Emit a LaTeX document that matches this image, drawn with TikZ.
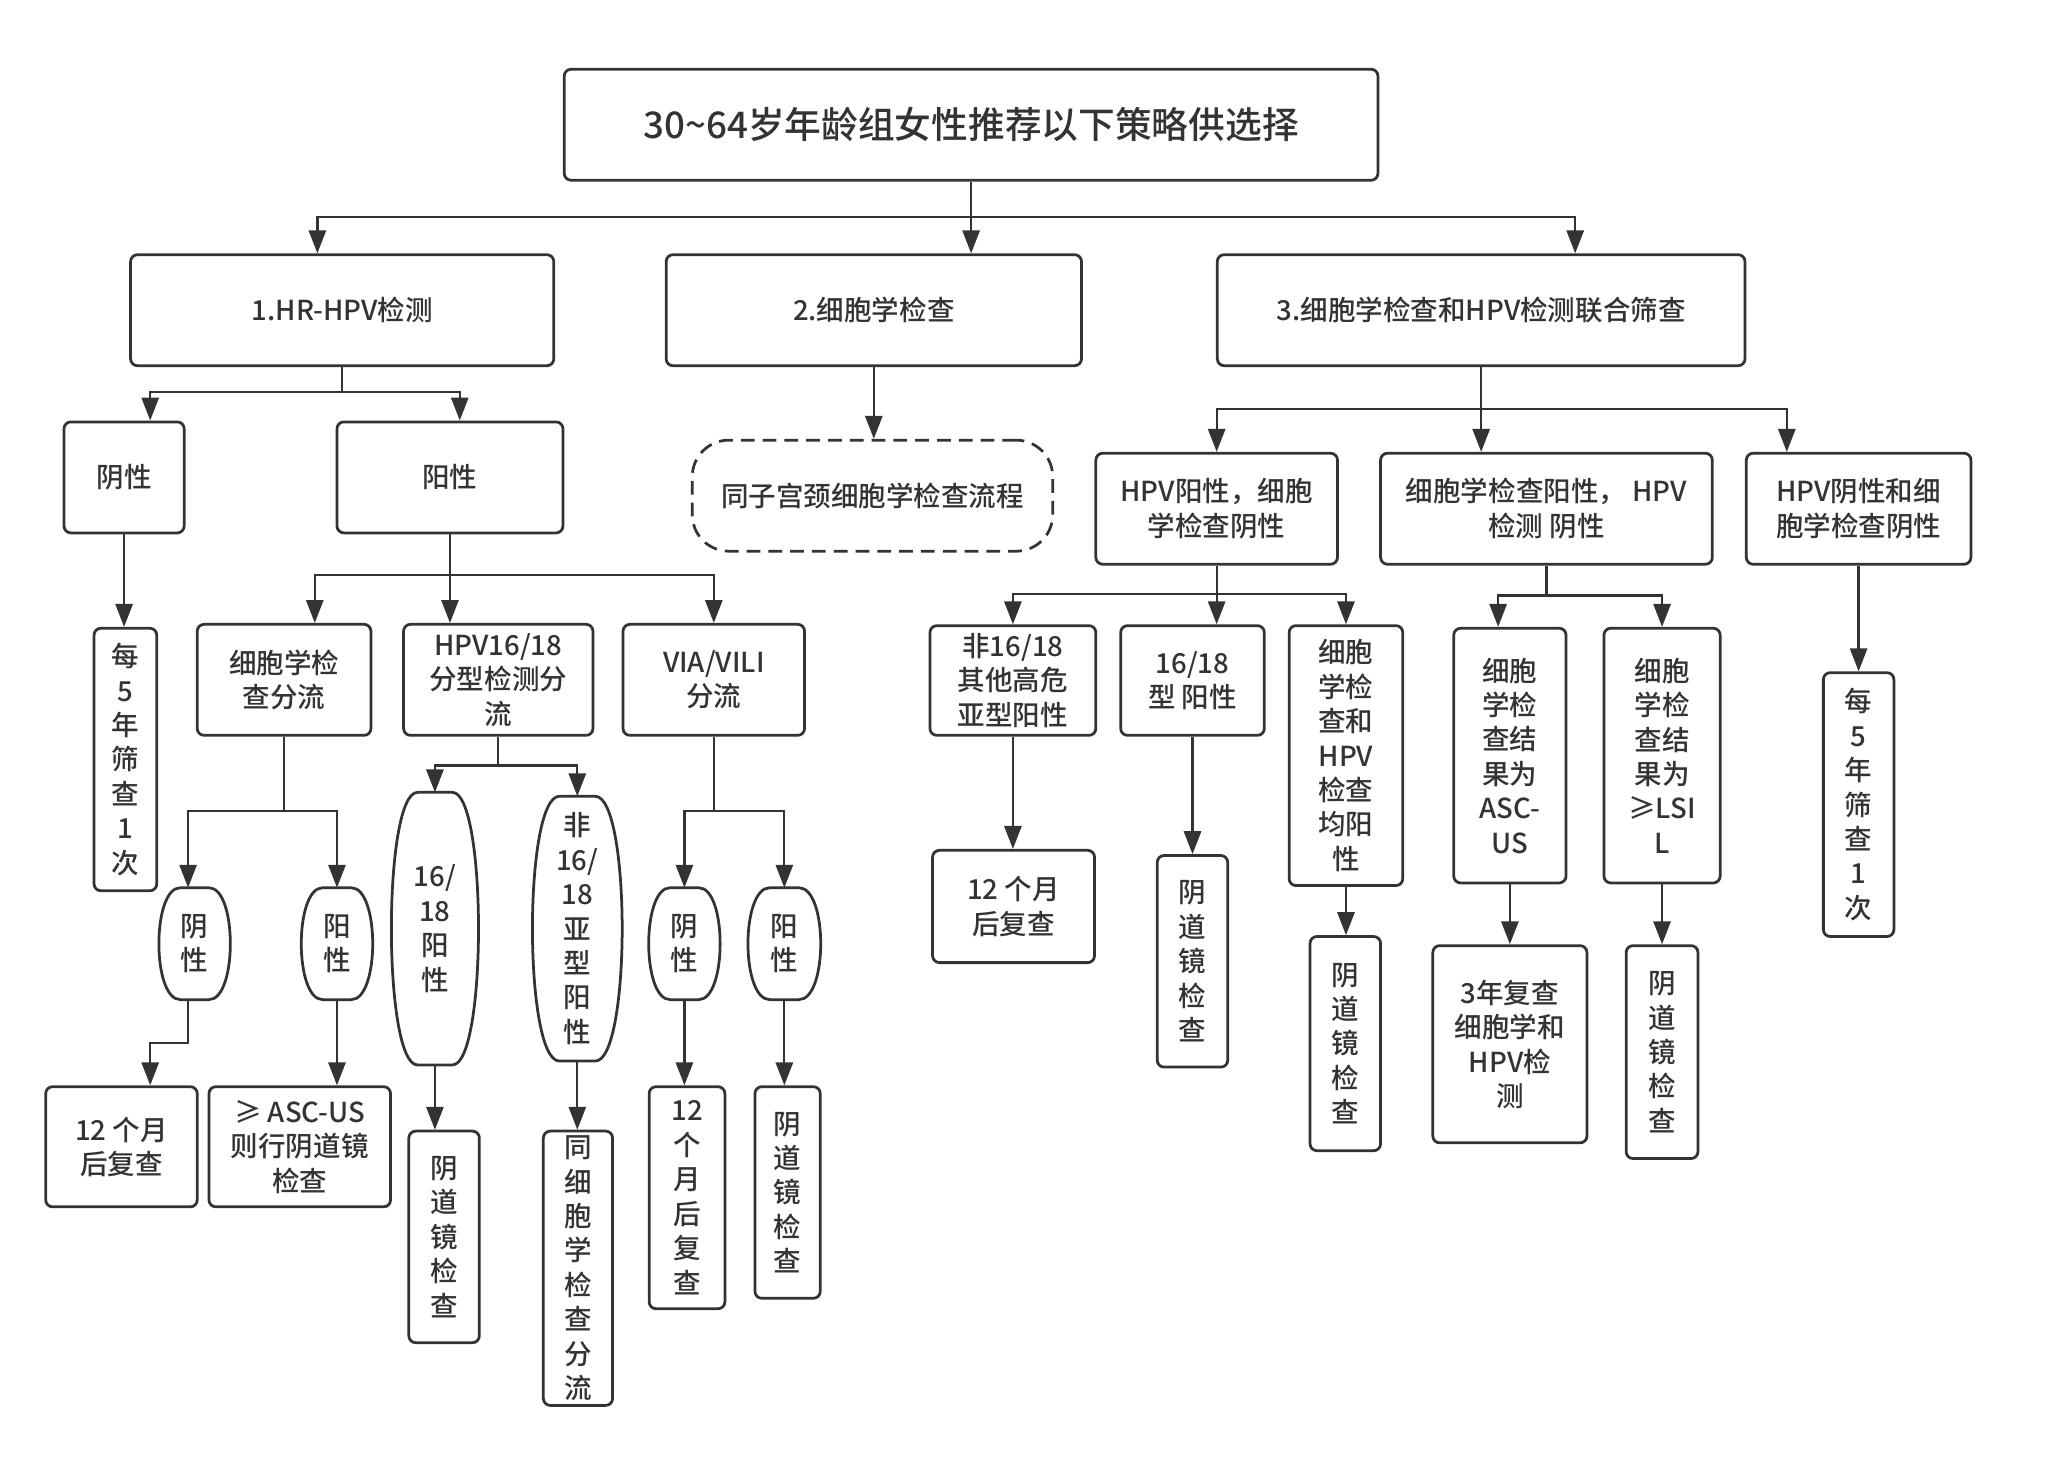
\documentclass[tikz,border=0pt]{standalone}
\usepackage{fontspec}
\setmainfont{Noto Sans CJK SC}[UprightFont={* Medium}]
\usepackage{tikz}
\usetikzlibrary{arrows.meta, calc}
\definecolor{inkgray}{RGB}{51,51,51}
\newdimen\pu \pu=0.02cm
\newcommand\drawbarrel[1]{%
  \draw[draw=inkgray, line width=1.2pt] let \p1=(#1.north west), \p2=(#1.south east) in
    ({0.7*\x1+0.3*\x2},\y1) -- ({0.3*\x1+0.7*\x2},\y1)
    .. controls ({1.1*\x2-0.1*\x1},\y1) and ({1.1*\x2-0.1*\x1},\y2) .. ({0.3*\x1+0.7*\x2},\y2)
    -- ({0.7*\x1+0.3*\x2},\y2)
    .. controls ({1.1*\x1-0.1*\x2},\y2) and ({1.1*\x1-0.1*\x2},\y1) .. ({0.7*\x1+0.3*\x2},\y1) -- cycle;}

\begin{document}
\begin{tikzpicture}[x=0.02cm, y=-0.02cm,
  every node/.style={font=\fontsize{12pt}{15pt}\selectfont, text=inkgray},
  sz/.style 2 args={minimum width=#1\pu, minimum height=#2\pu},
  stepbox/.style={draw=inkgray, line width=1.2pt, rounded corners=3pt, align=center, inner sep=0pt},
  ovalbox/.style={align=center, inner sep=0pt},
  arr/.style={draw=inkgray, line width=1pt, -{Triangle[width=7.5pt,length=10pt]}}]
\useasboundingbox (0,0) rectangle (1568,1132);

\node[stepbox, sz={623}{85}, font=\fontsize{16pt}{19pt}\selectfont] (title) at (743.5,95.5) {30\textasciitilde64岁年龄组女性推荐以下策略供选择};
\node[stepbox, sz={324}{85}] (hrhpv) at (262,237.5) {1.HR-HPV检测};
\node[stepbox, sz={318}{85}] (cyto) at (669,237.5) {2.细胞学检查};
\node[stepbox, sz={404}{85}] (cotest) at (1134,237.5) {3.细胞学检查和HPV检测联合筛查};

\node[stepbox, sz={92}{85}] (neg1) at (95,365.5) {阴性};
\node[stepbox, sz={173}{85}] (pos1) at (344.5,365.5) {阳性};
\node[stepbox, sz={48}{201}] (every5a) at (96,581.5) {每\\5\\年\\筛\\查\\1\\次};

\node[stepbox, sz={133}{85}] (cytotri) at (217.5,520.5) {细胞学检\\查分流};
\node[stepbox, sz={145}{85}] (typetri) at (381.5,520.5) {HPV16/18\\分型检测分\\流};
\node[stepbox, sz={139}{85}] (viatri) at (546.5,520.5) {VIA/VILI\\分流};

\node[ovalbox, sz={54}{85}] (cneg) at (149,722.5) {阴\\性};
\node[ovalbox, sz={54}{85}] (cpos) at (258,722.5) {阳\\性};
\node[stepbox, sz={116}{92}] (c12m) at (93,878) {12 个月\\后复查};
\node[stepbox, sz={139}{92}] (cascus) at (229.5,878) {≥ ASC-US\\则行阴道镜\\检查};

\node[ovalbox, sz={66}{208}] (t1618) at (333,711) {16/\\18\\阳\\性};
\node[ovalbox, sz={68}{202}] (tnon) at (442,711) {非\\16/\\18\\亚\\型\\阳\\性};
\node[stepbox, sz={54}{162}] (tcolpo) at (340,947) {阴\\道\\镜\\检\\查};
\node[stepbox, sz={53}{210}] (tcyto) at (442.5,971) {同\\细\\胞\\学\\检\\查\\分\\流};

\node[ovalbox, sz={54}{85}] (vneg) at (524,722.5) {阴\\性};
\node[ovalbox, sz={55}{85}] (vpos) at (600.5,722.5) {阳\\性};
\node[stepbox, sz={58}{170}] (v12m) at (526,917) {12\\个\\月\\后\\复\\查};
\node[stepbox, sz={50}{162}] (vcolpo) at (603,913) {阴\\道\\镜\\检\\查};

\node[stepbox, sz={276}{85}, rounded corners=28\pu, dash pattern=on 6pt off 3.5pt] (flow) at (668,379.5) {同子宫颈细胞学检查流程};

\node[stepbox, sz={185}{85}] (hpvpos) at (931.5,389.5) {HPV阳性，细胞\\学检查阴性};
\node[stepbox, sz={254}{85}] (cytopos) at (1184,389.5) {细胞学检查阳性， HPV\\检测 阴性};
\node[stepbox, sz={172}{85}] (bothneg) at (1423,389.5) {HPV阴性和细\\胞学检查阴性};

\node[stepbox, sz={127}{84}] (other) at (775.5,521) {非16/18\\其他高危\\亚型阳性};
\node[stepbox, sz={110}{84}] (t1618b) at (913,521) {16/18\\型 阳性};
\node[stepbox, sz={87}{199}] (both) at (1030.5,578.5) {细胞\\学检\\查和\\HPV\\检查\\均阳\\性};
\node[stepbox, sz={124}{86}] (o12m) at (776,694) {12 个月\\后复查};
\node[stepbox, sz={54}{162}] (ocolpo) at (913,736) {阴\\道\\镜\\检\\查};
\node[stepbox, sz={54}{164}] (bcolpo) at (1030,799) {阴\\道\\镜\\检\\查};

\node[stepbox, sz={86}{195}] (ascus) at (1156,578.5) {细胞\\学检\\查结\\果为\\ASC-\\US};
\node[stepbox, sz={89}{195}] (lsil) at (1272.5,578.5) {细胞\\学检\\查结\\果为\\≥LSI\\L};
\node[stepbox, sz={118}{151}] (r3y) at (1156,799.5) {3年复查\\细胞学和\\HPV检\\测};
\node[stepbox, sz={55}{163}] (lcolpo) at (1272.5,805.5) {阴\\道\\镜\\检\\查};
\node[stepbox, sz={54}{202}] (every5b) at (1423,616) {每\\5\\年\\筛\\查\\1\\次};

\foreach \o in {cneg,cpos,t1618,tnon,vneg,vpos} {\drawbarrel{\o}}

\coordinate (topbus) at (743.5,166);
\draw[arr] (title.south) -- (title.south |- cyto.north);
\draw[arr] (topbus) -| ([shift={(-19,0)}]hrhpv.north);
\draw[arr] (topbus) -| ([shift={(72,0)}]cotest.north);

\coordinate (bus1) at (262,300);
\draw[arr] (hrhpv.south) -- (bus1) -| ([shift={(20,0)}]neg1.north);
\draw[arr] (bus1) -| ([shift={(7.5,0)}]pos1.north);
\draw[arr] (neg1.south) -- (neg1.south |- every5a.north);

\coordinate (bus2) at (344.5,440);
\draw[arr] (pos1.south) -- (pos1.south |- typetri.north);
\draw[arr] (bus2) -| ([shift={(23.5,0)}]cytotri.north);
\draw[arr] (bus2) -| (viatri.north);

\coordinate (bus3) at (217.5,621);
\draw[arr] (cytotri.south) -- (bus3) -| ([shift={(-5,0)}]cneg.north);
\draw[arr] (bus3) -| (cpos.north);
\draw[arr] ([shift={(-5,0)}]cneg.south) -- ++(0,33) -| ([shift={(22,0)}]c12m.north);
\draw[arr] (cpos.south) -- (cpos.south |- cascus.north);

\coordinate (bus4) at (381.5,586);
\draw[arr] (typetri.south) -- (bus4) -| (t1618.north);
\draw[arr] (bus4) -| (tnon.north);
\draw[arr] (t1618.south) -- (t1618.south |- tcolpo.north);
\draw[arr] (tnon.south) -- (tnon.south |- tcyto.north);

\coordinate (bus5) at (546.5,621);
\draw[arr] (viatri.south) -- (bus5) -| (vneg.north);
\draw[arr] (bus5) -| (vpos.north);
\draw[arr] (vneg.south) -- (vneg.south |- v12m.north);
\draw[arr] (vpos.south) -- (vpos.south |- vcolpo.north);

\draw[arr] (cyto.south) -- (cyto.south |- flow.north);

\coordinate (bus6) at (1134,313);
\draw[arr] (cotest.south) -- (bus6) -| (hpvpos.north);
\draw[arr] (bus6) -- (bus6 |- cytopos.north);
\draw[arr] (bus6) -| ([shift={(-55,0)}]bothneg.north);

\coordinate (bus7) at (931.5,455);
\draw[arr] (hpvpos.south) -- (bus7) -| (other.north);
\draw[arr] (bus7) -- (bus7 |- t1618b.north);
\draw[arr] (bus7) -| (both.north);
\draw[arr] (other.south) -- (other.south |- o12m.north);
\draw[arr] (t1618b.south) -- (t1618b.south |- ocolpo.north);
\draw[arr] (both.south) -- (both.south |- bcolpo.north);

\coordinate (bus8) at (1184,456);
\draw[arr] (cytopos.south) -- (bus8) -| ([shift={(-9,0)}]ascus.north);
\draw[arr] (bus8) -| (lsil.north);
\draw[arr] (ascus.south) -- (ascus.south |- r3y.north);
\draw[arr] (lsil.south) -- (lsil.south |- lcolpo.north);
\draw[arr] (bothneg.south) -- (bothneg.south |- every5b.north);
\end{tikzpicture}
\end{document}
